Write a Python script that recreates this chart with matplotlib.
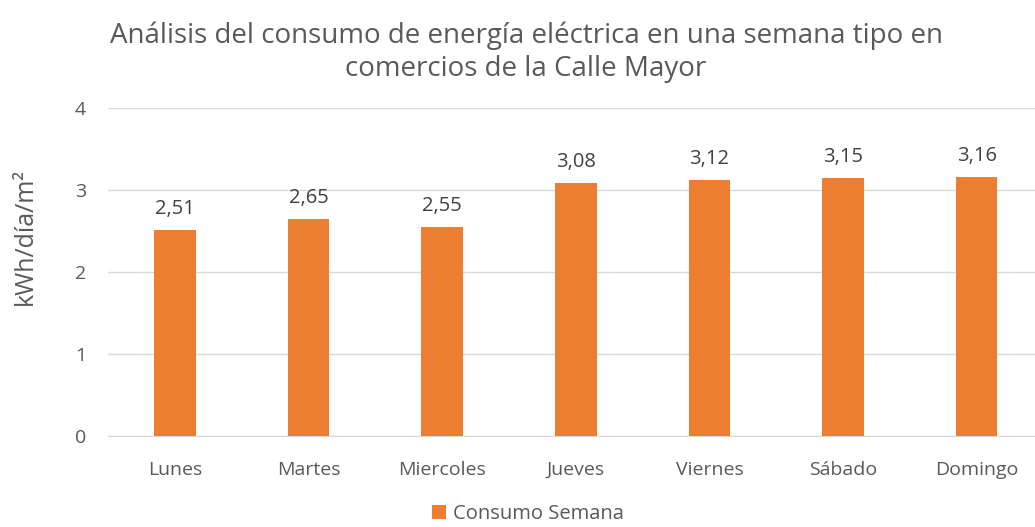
import matplotlib.pyplot as plt

dias = ["Lunes", "Martes", "Miercoles", "Jueves", "Viernes", "Sábado", "Domingo"]
consumo = [2.51, 2.65, 2.55, 3.08, 3.12, 3.15, 3.16]
etiquetas = ["2,51", "2,65", "2,55", "3,08", "3,12", "3,15", "3,16"]

plt.rcParams['font.family'] = ['Open Sans', 'DejaVu Sans']
gris = "#595959"

fig = plt.figure(figsize=(10.35, 5.27), dpi=100)
ax = fig.add_axes([0.1045, 0.1733, 0.9037, 0.6216])

x = range(len(dias))
barras = ax.bar(x, consumo, width=0.31, color="#ED7D31", label="Consumo Semana", zorder=3)
for b, t in zip(barras, etiquetas):
    ax.annotate(t, (b.get_x() + b.get_width() / 2, b.get_height()),
                xytext=(0, 8), textcoords="offset points",
                ha="center", va="bottom", fontsize=14.5, color="#404040")

ax.set_ylim(0, 4)
ax.set_xlim(-0.5, len(dias) - 0.5)
ax.set_yticks([0, 1, 2, 3, 4])
ax.set_xticks(list(x))
ax.set_xticklabels(dias)
ax.tick_params(axis="both", length=0, labelsize=14, labelcolor=gris)
ax.tick_params(axis="y", pad=16)
ax.tick_params(axis="x", pad=18)
ax.grid(axis="y", color="#D9D9D9", linewidth=1, zorder=0)
for s in ["top", "right", "left"]:
    ax.spines[s].set_visible(False)
ax.spines["bottom"].set_color("#D9D9D9")

fig.text(25 / 1035, 1 - 236 / 527, "kWh/día/m²", rotation=90, ha="center", va="center",
         fontsize=18, color=gris)
fig.suptitle("Análisis del consumo de energía eléctrica en una semana tipo en\ncomercios de la Calle Mayor",
             x=526 / 1035, y=0.96, fontsize=20, color=gris, linespacing=1.25)

fig.legend(loc="center", bbox_to_anchor=(528 / 1035, 1 - 514 / 527), frameon=False,
           fontsize=14.5, labelcolor=gris, handlelength=0.7, handleheight=0.7,
           handletextpad=0.35)

fig.savefig("out.png", dpi=100)
